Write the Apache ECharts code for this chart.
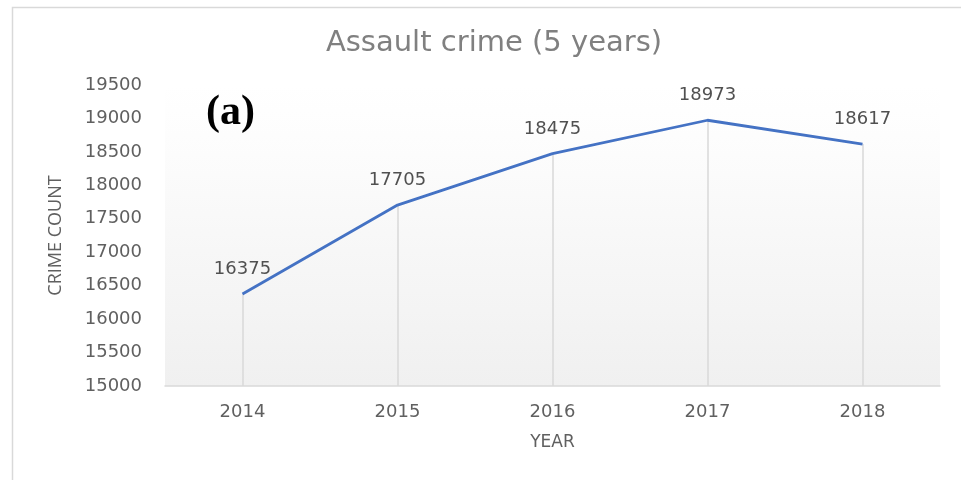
<!DOCTYPE html>
<html>
<head>
<meta charset="utf-8">
<script src="https://cdn.jsdelivr.net/npm/echarts@6/dist/echarts.min.js"></script>
<style>
  html, body { margin: 0; padding: 0; background: #fff; }
  #chart { width: 961px; height: 480px; }
</style>
</head>
<body>
<div id="chart"></div>
<script>
const years = ["2014", "2015", "2016", "2017", "2018"];
const crimeCounts = [16375, 17705, 18475, 18973, 18617];
const yMin = 15000;
const yMax = 19500;
const yStep = 500;

const chart = echarts.init(document.getElementById("chart"));
const wideFont = "'DejaVu Sans', 'Open Sans', sans-serif";
const narrowFont = "'Open Sans', 'Noto Sans', sans-serif";

// drop lines from each point down to the category axis
const dropLines = crimeCounts.map((v, i) => [
  { coord: [i, v] },
  { coord: [i, yMin] },
]);

const option = {
  animation: false,
  backgroundColor: "#ffffff",
  title: {
    text: "Assault crime (5 years)",
    left: 489,
    textAlign: "center",
    top: 24,
    textStyle: {
      color: "#808080",
      fontFamily: wideFont,
      fontSize: 29,
      fontWeight: "normal",
    },
  },
  graphic: [
    {
      type: "rect",
      left: 10,
      top: 5,
      shape: { width: 1000, height: 500 },
      style: { fill: "none", stroke: "#d9d9d9", lineWidth: 1.5 },
      z: -1,
    },
    {
      type: "text",
      left: 206,
      top: 92,
      style: {
        text: "(a)",
        fill: "#000",
        font: "bold 42px 'Liberation Serif', 'DejaVu Serif', serif",
      },
    },
  ],
  grid: {
    left: 165,
    right: 21,
    top: 85,
    bottom: 94,
    show: true,
    borderWidth: 0,
    backgroundColor: {
      type: "linear",
      x: 0, y: 0, x2: 0, y2: 1,
      colorStops: [
        { offset: 0, color: "#ffffff" },
        { offset: 0.17, color: "#fdfdfd" },
        { offset: 1, color: "#f0f0f0" },
      ],
    },
  },
  xAxis: {
    type: "category",
    data: years,
    name: "YEAR",
    nameLocation: "middle",
    nameGap: 48,
    nameTextStyle: { color: "#606060", fontFamily: wideFont, fontSize: 17 },
    axisLine: { lineStyle: { color: "#d9d9d9", width: 1.5 } },
    axisTick: { show: false },
    axisLabel: {
      color: "#606060",
      fontFamily: wideFont,
      fontSize: 18,
      margin: 17,
    },
  },
  yAxis: {
    type: "value",
    min: yMin,
    max: yMax,
    interval: yStep,
    name: "CRIME COUNT",
    nameLocation: "middle",
    nameGap: 100,
    nameTextStyle: { color: "#606060", fontFamily: narrowFont, fontSize: 18 },
    axisLine: { show: false },
    axisTick: { show: false },
    splitLine: { show: false },
    axisLabel: {
      color: "#606060",
      fontFamily: wideFont,
      fontSize: 18,
      margin: 23,
      formatter: (v) => String(v),
    },
  },
  series: [
    {
      type: "line",
      data: crimeCounts,
      symbol: "circle",
      symbolSize: 1,
      showSymbol: true,
      itemStyle: { color: "transparent", borderWidth: 0 },
      lineStyle: { color: "#4472c4", width: 2.8 },
      label: {
        show: true,
        position: "top",
        distance: 15,
        color: "#505050",
        fontFamily: wideFont,
        fontSize: 18,
      },
      markLine: {
        silent: true,
        symbol: "none",
        label: { show: false },
        lineStyle: { color: "#d9d9d9", width: 1.5, type: "solid" },
        data: dropLines,
        z: 1,
      },
    },
  ],
};
chart.setOption(option);
</script>
</body>
</html>
